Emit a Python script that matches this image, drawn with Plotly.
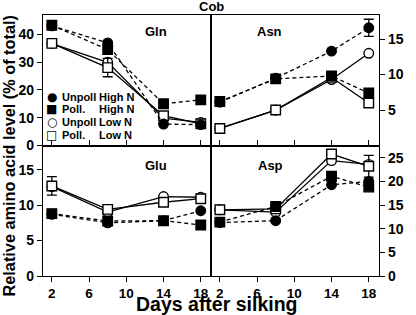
import plotly.graph_objects as go
from plotly.subplots import make_subplots

days = [2, 8, 14, 18]
x_ticks = [2, 6, 10, 14, 18]
series_names = ["Unpoll High N", "Poll. High N", "Unpoll Low N", "Poll. Low N"]
panel_names = ["Gln", "Asn", "Glu", "Asp"]

# Gln (top-left)
gln_unpoll_high = [43.0, 36.9, 7.7, 7.5]
gln_poll_high = [43.2, 34.5, 15.0, 16.4]
gln_unpoll_low = [36.6, 29.9, 9.8, 8.3]
gln_poll_low = [36.7, 28.0, 10.7, 7.8]
gln_poll_low_err = [None, 3.3, None, None]

# Asn (top-right)
asn_unpoll_high = [6.1, 9.5, 13.3, 16.6]
asn_unpoll_high_err = [None, None, None, 1.2]
asn_poll_high = [6.2, 9.4, 9.8, 7.4]
asn_unpoll_low = [2.4, 5.0, 9.3, 13.0]
asn_poll_low = [2.4, 5.0, 9.6, 6.0]

# Glu (bottom-left)
glu_unpoll_high = [8.7, 7.5, 7.8, 9.2]
glu_poll_high = [8.8, 7.75, 7.8, 7.2]
glu_unpoll_low = [12.6, 9.0, 11.2, 11.1]
glu_poll_low = [12.7, 9.4, 10.4, 10.9]
glu_poll_low_err = [1.3, None, None, None]

# Asp (bottom-right)
asp_unpoll_high = [11.3, 11.7, 19.3, 20.0]
asp_poll_high = [11.4, 14.7, 21.1, 18.8]
asp_unpoll_low = [14.0, 13.5, 24.4, 23.6]
asp_poll_low = [14.0, 14.2, 25.8, 23.2]
asp_poll_low_err = [None, None, None, 2.3]

panels = [
    (1, 1, [gln_unpoll_high, gln_poll_high, gln_unpoll_low, gln_poll_low],
     [None, None, None, gln_poll_low_err]),
    (1, 2, [asn_unpoll_high, asn_poll_high, asn_unpoll_low, asn_poll_low],
     [asn_unpoll_high_err, None, None, None]),
    (2, 1, [glu_unpoll_high, glu_poll_high, glu_unpoll_low, glu_poll_low],
     [None, None, None, glu_poll_low_err]),
    (2, 2, [asp_unpoll_high, asp_poll_high, asp_unpoll_low, asp_poll_low],
     [None, None, None, asp_poll_low_err]),
]

styles = [
    dict(symbol="circle", fill="black", dash="4px,3px"),
    dict(symbol="square", fill="black", dash="4px,3px"),
    dict(symbol="circle", fill="white", dash="solid"),
    dict(symbol="square", fill="white", dash="solid"),
]

FONT = "Liberation Sans, Arial, sans-serif"

fig = make_subplots(rows=2, cols=2, horizontal_spacing=0, vertical_spacing=0)

draw_order = [2, 3, 0, 1]
for row, col, series, errs in panels:
    for i in draw_order:
        st = styles[i]
        err = errs[i]
        kw = {}
        if err is not None:
            kw["error_y"] = dict(type="data", array=err, visible=True,
                                 color="black", thickness=1.3, width=5)
        fig.add_trace(go.Scatter(
            x=days, y=series[i], mode="lines+markers", name=series_names[i],
            showlegend=False, hoverinfo="skip",
            line=dict(color="black", width=1.3, dash=st["dash"]),
            marker=dict(symbol=st["symbol"], size=9.5, color=st["fill"],
                        line=dict(color="black", width=1.4)),
            **kw), row=row, col=col)

W, H = 416, 315
P_LEFT, P_RIGHT, P_TOP, P_BOTTOM = 43, 392, 15, 275.7
L = P_LEFT
R = W - P_RIGHT
T = P_TOP
B = H - P_BOTTOM
pw, ph = P_RIGHT - P_LEFT, P_BOTTOM - P_TOP

def px(x):
    return (x - P_LEFT) / pw

def py(y):
    return (P_BOTTOM - y) / ph

axis_common = dict(showline=True, linecolor="black", linewidth=1.3, mirror=True,
                   showgrid=False, zeroline=False, ticks="outside", ticklen=5,
                   tickcolor="black", tickwidth=1.3,
                   tickfont=dict(family=FONT, size=14, color="black", weight="bold"))

for r in (1, 2):
    for c in (1, 2):
        xa = dict(axis_common, range=[1.05, 19.1], tickvals=x_ticks)
        xa["tickfont"] = dict(axis_common["tickfont"], size=13.5)
        if r == 1:
            xa.update(ticks="inside", showticklabels=False)
        fig.update_xaxes(row=r, col=c, **xa)

fig.update_yaxes(row=1, col=1, **dict(axis_common, range=[0, 46.9], tickvals=[0, 10, 20, 30, 40]))
fig.update_yaxes(row=1, col=2, **dict(axis_common, range=[0, 18.4], tickvals=[5, 10, 15], side="right"))
fig.update_yaxes(row=2, col=1, **dict(axis_common, range=[0, 18.4], tickvals=[0, 5, 10, 15]))
fig.update_yaxes(row=2, col=2, **dict(axis_common, range=[0, 27.6], tickvals=[0, 5, 10, 15, 20, 25], side="right"))

annots = []
bold = dict(family=FONT, color="black", weight="bold")

def ann(text, x, y, size, xanchor="center", yanchor="middle", angle=0, family=None):
    f = dict(bold, size=size)
    if family:
        f = dict(family=family, size=size, color="black")
    return dict(text=text, x=px(x), y=py(y), xref="paper", yref="paper",
                showarrow=False, xanchor=xanchor, yanchor=yanchor,
                textangle=angle, font=f)

annots.append(ann("Cob", 217.5, 7, 13))
for name, (cx, cy) in zip(panel_names, [(160, 31), (278.5, 31.7), (160, 165), (279.5, 165)]):
    annots.append(ann(name, cx, cy, 13))
annots.append(ann("Relative amino acid level (% of total)", 8, 156, 16.3, angle=-90))
annots.append(ann("Days after silking", 223, 304, 19.5))

# Legend (text-based, inside Gln panel)
legend_symbols = ["\u25CF", "\u25A0", "\u25CB", "\u25A1"]
legend_first = ["Unpoll", "Poll.", "Unpoll", "Poll."]
legend_second = ["High N", "High N", "Low N", "Low N"]
rows_y = [97, 109, 122, 135]
for sym, a, b, yy in zip(legend_symbols, legend_first, legend_second, rows_y):
    annots.append(ann(sym, 52, yy, 12, family="DejaVu Sans"))
    annots.append(ann(a, 61, yy, 11, xanchor="left"))
    annots.append(ann(b, 99, yy, 11, xanchor="left"))

fig.update_layout(width=W, height=H, margin=dict(l=L, r=R, t=T, b=B),
                  paper_bgcolor="white", plot_bgcolor="white",
                  annotations=annots, showlegend=False, hovermode=False,
                  font=dict(family=FONT, color="black"))

# remove the browser's default 8px body margin so the figure sits at the window origin
fig.write_html("out.html", config={"displayModeBar": False},
               post_script="document.body.style.margin='0px';")
